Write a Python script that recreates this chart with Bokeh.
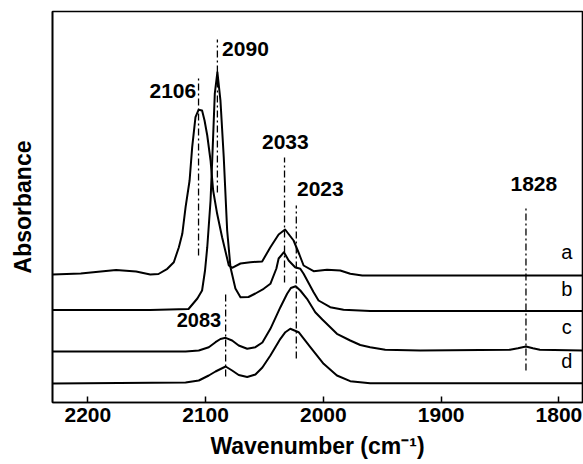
from bokeh.plotting import figure
from bokeh.models import Range1d, FixedTicker, ColumnDataSource
from bokeh.core.properties import value
from bokeh.embed import file_html
from bokeh.resources import INLINE

# ---- data (wavenumber in cm-1, stacked absorbance in arbitrary units) ----
wn_a = [2230, 2206, 2189, 2176, 2159, 2147, 2140, 2132.5, 2127, 2122.7, 2119.8, 2117, 2113.6,
        2111.4, 2108.6, 2106, 2103, 2100.9, 2098.6, 2095.8, 2093.6, 2090.2, 2086, 2080.3, 2077.5,
        2070.4, 2062, 2052, 2045, 2038, 2032.5, 2025.3, 2020.4, 2016.8, 2008.3, 1996.9,
        1985.7, 1977.2, 1967, 1780]
ab_a = [1.28, 1.29, 1.31, 1.325, 1.31, 1.28, 1.285, 1.337, 1.403, 1.553, 1.687, 1.953, 2.22,
        2.553, 2.853, 2.927, 2.92, 2.82, 2.67, 2.42, 2.12, 1.887, 1.653, 1.37, 1.347,
        1.39, 1.403, 1.41, 1.553, 1.68, 1.73, 1.62, 1.48, 1.37, 1.313, 1.327,
        1.32, 1.287, 1.27, 1.27]

wn_b = [2230, 2147, 2114.5, 2107, 2103, 2100.5, 2098.6, 2095.8, 2094.4, 2092.2, 2090,
        2087.4, 2084.6, 2081.7, 2078.9, 2074.7, 2070.4, 2063.6, 2057.7, 2050.7, 2045, 2039.9,
        2038, 2033.5, 2029.5, 2024, 2019.6, 2016.8, 2008.3, 2004.1, 1994.2, 1982.9, 1960.3, 1780]
ab_b = [0.925, 0.925, 0.935, 1.04, 1.12, 1.32, 1.553, 2.02, 2.42, 3.09, 3.303,
        3.02, 2.453, 1.72, 1.353, 1.14, 1.053, 1.055, 1.09, 1.137, 1.187, 1.34,
        1.44, 1.503, 1.42, 1.353, 1.337, 1.287, 1.103, 1.02, 0.953, 0.927, 0.915, 0.915]

wn_c = [2230, 2117, 2105.8, 2097.3, 2091.6, 2087.4, 2083, 2077.5, 2071.9, 2064.7, 2057.7,
        2051.8, 2045, 2036.5, 2030.8, 2027.6, 2023.5, 2019.6, 2013.9, 2006.9, 2000.9, 1988.5,
        1977.2, 1968.7, 1960.3, 1947.5, 1917.9, 1867, 1841.6, 1834.8, 1828, 1822.1, 1816.2, 1780]
ab_c = [0.51, 0.51, 0.52, 0.553, 0.603, 0.635, 0.647, 0.62, 0.57, 0.537, 0.553,
        0.60, 0.737, 0.953, 1.087, 1.145, 1.163, 1.12, 1.037, 0.903, 0.83, 0.687,
        0.62, 0.575, 0.553, 0.527, 0.52, 0.525, 0.527, 0.542, 0.56, 0.542, 0.527, 0.52]

wn_d = [2230, 2117, 2105.8, 2097.3, 2091.6, 2083, 2077.5, 2071.9, 2064.7, 2057.7, 2051.8,
        2045, 2036.5, 2032.3, 2028.1, 2021, 2011.1, 1999.8, 1988.5, 1977.2, 1960.3, 1780]
ab_d = [0.19, 0.20, 0.22, 0.27, 0.31, 0.36, 0.32, 0.275, 0.255, 0.28, 0.35,
        0.47, 0.637, 0.703, 0.737, 0.703, 0.553, 0.387, 0.27, 0.213, 0.193, 0.193]

# dash-dot marker lines at band positions (wavenumber, lower, upper)
band_pos = [2106, 2090, 2033, 2023, 1828, 2083]
band_lo = [1.47, 2.10, 1.20, 0.44, 0.32, 0.26]
band_hi = [3.25, 3.63, 2.45, 1.97, 1.95, 1.09]

# band labels
band_text = ["2106", "2090", "2033", "2023", "1828"]
band_tx = [2108, 2086, 2032.3, 2022.4, 1821.3]
band_ty = [3.12, 3.537, 2.603, 2.137, 2.187]
band_align = ["right", "left", "center", "left", "center"]

small_text = ["2083"]
small_tx = [2086.8]
small_ty = [0.827]

curve_names = ["a", "b", "c", "d"]
curve_lx = [1793.3, 1793.3, 1793.3, 1793.3]
curve_ly = [1.503, 1.137, 0.76, 0.42]

x_ticks = [2200, 2100, 2000, 1900, 1800]

FONT = "Liberation Sans"

p = figure(width=583, height=464, output_backend="svg", toolbar_location=None,
           x_range=Range1d(2230, 1780), y_range=Range1d(0, 3.91),
           min_border_left=52, min_border_right=1, min_border_top=11,
           min_border_bottom=62)
p.xgrid.visible = False
p.ygrid.visible = False
p.background_fill_color = "white"
p.border_fill_color = "white"
p.outline_line_color = "black"
p.outline_line_width = 1.6

for wn, ab in [(wn_a, ab_a), (wn_b, ab_b), (wn_c, ab_c), (wn_d, ab_d)]:
    p.line(wn, ab, line_color="black", line_width=2, line_join="round")

p.segment(x0=band_pos, y0=band_lo, x1=band_pos, y1=band_hi,
          line_color="black", line_width=1.3, line_dash="7 3 2 3")

src = ColumnDataSource(dict(x=band_tx, y=band_ty, t=band_text, al=band_align))
p.text(x="x", y="y", text="t", text_align="al", text_baseline="middle", source=src,
       text_font=value(FONT), text_font_size="21px", text_font_style="bold",
       text_color="black")
p.text(x=small_tx, y=small_ty, text=small_text, text_align="right", text_baseline="middle",
       text_font=value(FONT), text_font_size="20px", text_font_style="bold",
       text_color="black")
p.text(x=curve_lx, y=curve_ly, text=curve_names, text_align="center", text_baseline="middle",
       text_font=value(FONT), text_font_size="20px", text_color="black")

xa = p.xaxis[0]
xa.ticker = FixedTicker(ticks=x_ticks)
xa.minor_tick_line_color = None
xa.major_tick_in = 6
xa.major_tick_out = 0
xa.major_tick_line_width = 1.5
xa.axis_line_width = 1.6
xa.major_label_text_font = FONT
xa.major_label_text_font_style = "bold"
xa.major_label_text_font_size = "21px"
xa.major_label_text_color = "black"
xa.major_label_standoff = 5
xa.axis_label = "Wavenumber (cm\u207b\u00b9)"
xa.axis_label_text_font = FONT
xa.axis_label_text_font_style = "bold"
xa.axis_label_text_font_size = "23px"
xa.axis_label_text_color = "black"
xa.axis_label_standoff = 8

ya = p.yaxis[0]
ya.ticker = FixedTicker(ticks=[])
ya.major_tick_line_color = None
ya.minor_tick_line_color = None
ya.axis_line_width = 1.6
ya.axis_label = "Absorbance"
ya.axis_label_text_font = FONT
ya.axis_label_text_font_style = "bold"
ya.axis_label_text_font_size = "23px"
ya.axis_label_text_color = "black"
ya.axis_label_standoff = 17

open("out.html", "w").write(file_html(p, INLINE))
